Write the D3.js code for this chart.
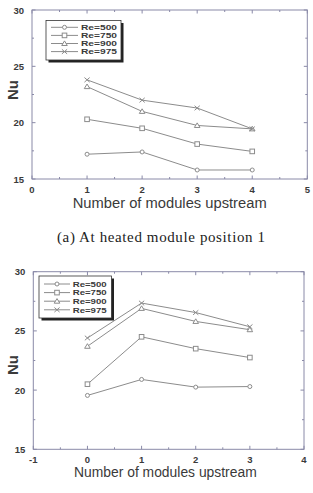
<!DOCTYPE html>
<html><head><meta charset="utf-8">
<script src="https://cdn.jsdelivr.net/npm/d3@7"></script>
<style>html,body{margin:0;padding:0;background:#fff;}svg{display:block;}</style>
</head><body>
<svg id="c" width="313" height="493"></svg>
<script>
const seriesNames = ["Re=500","Re=750","Re=900","Re=975"];
const markers = ["circle","square","triangle","cross"];
// Chart (a)
const xA = [1,2,3,4];
const a500 = [17.2,17.4,15.8,15.8];
const a750 = [20.3,19.5,18.1,17.45];
const a900 = [23.2,21.0,19.75,19.45];
const a975 = [23.8,22.0,21.3,19.45];
const xTicksA = [0,1,2,3,4,5];
// Chart (b)
const xB = [0,1,2,3];
const b500 = [19.55,20.9,20.25,20.3];
const b750 = [20.5,24.5,23.5,22.75];
const b900 = [23.7,26.9,25.8,25.1];
const b975 = [24.4,27.35,26.55,25.35];
const xTicksB = [-1,0,1,2,3,4];
const yTicks = [15,20,25,30];
const xLabel = "Number of modules upstream";
const yLabel = "Nu";
const caption = "(a) At heated module position 1";

const svg = d3.select("#c");
const frameCol = "#8a8aa8", lineCol = "#8c8c8c", textCol = "#3a3a3a";

function drawMarker(g, type, x, y) {
  if (type === "circle") g.append("circle").attr("cx",x).attr("cy",y).attr("r",2).attr("fill","#fff").attr("stroke",lineCol);
  else if (type === "square") g.append("rect").attr("x",x-2.3).attr("y",y-2.3).attr("width",4.6).attr("height",4.6).attr("fill","#fff").attr("stroke",lineCol);
  else if (type === "triangle") g.append("path").attr("d",`M${x},${y-2.6}L${x+2.8},${y+2}L${x-2.8},${y+2}Z`).attr("fill","#fff").attr("stroke",lineCol);
  else g.append("path").attr("d",`M${x-2.6},${y-2.3}L${x+2.6},${y+2.3}M${x-2.6},${y+2.3}L${x+2.6},${y-2.3}`).attr("stroke",lineCol).attr("fill","none");
}

function chart(o) {
  const g = svg.append("g");
  const x = d3.scaleLinear().domain(o.xDom).range([o.l,o.r]);
  const y = d3.scaleLinear().domain([15,30]).range([o.b,o.t]);
  g.append("rect").attr("x",o.l).attr("y",o.t).attr("width",o.r-o.l).attr("height",o.b-o.t)
    .attr("fill","none").attr("stroke",frameCol).attr("stroke-width",1);
  const xMaj = o.xTicks, xMin = d3.range(o.xDom[0]+0.5,o.xDom[1],1);
  const yMaj = yTicks, yMin = [17.5,22.5,27.5];
  const tk = (x1,y1,x2,y2)=>g.append("line").attr("x1",x1).attr("y1",y1).attr("x2",x2).attr("y2",y2).attr("stroke",frameCol);
  xMaj.forEach(v=>{tk(x(v),o.b,x(v),o.b-3.5);tk(x(v),o.t,x(v),o.t+3.5);});
  xMin.forEach(v=>{tk(x(v),o.b,x(v),o.b-2);tk(x(v),o.t,x(v),o.t+2);});
  yMaj.forEach(v=>{tk(o.l,y(v),o.l+3.5,y(v));tk(o.r,y(v),o.r-3.5,y(v));});
  yMin.forEach(v=>{tk(o.l,y(v),o.l+2,y(v));tk(o.r,y(v),o.r-2,y(v));});
  g.selectAll(".xl").data(xMaj).enter().append("text").attr("x",d=>x(d)).attr("y",o.b+13.5)
    .attr("text-anchor","middle").attr("font-family","Liberation Sans, Arial").attr("font-weight","bold")
    .attr("font-size",9.5).attr("fill",textCol).text(d=>d);
  g.selectAll(".yl").data(yMaj).enter().append("text").attr("x",o.l-8).attr("y",d=>y(d)+3.5)
    .attr("text-anchor","end").attr("font-family","Liberation Sans, Arial").attr("font-weight","bold")
    .attr("font-size",9.5).attr("fill",textCol).text(d=>d);
  g.append("text").attr("x",(o.xlab[0]+o.xlab[1])/2).attr("y",o.xlabY).attr("text-anchor","middle")
    .attr("font-family","Liberation Sans, Arial").attr("font-size",14).attr("fill",textCol)
    .attr("textLength",o.xlab[1]-o.xlab[0]).attr("lengthAdjust","spacingAndGlyphs").text(xLabel);
  g.append("text").attr("transform",`translate(${o.nuX},${o.nuY}) rotate(-90)`).attr("text-anchor","middle")
    .attr("font-family","Liberation Sans, Arial").attr("font-size",15.5).attr("font-weight","bold").attr("fill",textCol)
    .attr("textLength",20).attr("lengthAdjust","spacingAndGlyphs").text(yLabel);
  const line = d3.line().x(d=>x(d[0])).y(d=>y(d[1]));
  o.series.forEach((s,i)=>{
    const pts = o.xs.map((xv,j)=>[xv,s[j]]);
    g.append("path").attr("d",line(pts)).attr("fill","none").attr("stroke",lineCol).attr("stroke-width",1);
    pts.forEach(p=>drawMarker(g,markers[i],x(p[0]),y(p[1])));
  });
  const L = o.leg;
  g.append("rect").attr("x",L.x+2.5).attr("y",L.y+2.5).attr("width",L.w).attr("height",L.h).attr("fill","#222");
  g.append("rect").attr("x",L.x).attr("y",L.y).attr("width",L.w).attr("height",L.h).attr("fill","#fff").attr("stroke","#333").attr("stroke-width",0.8);
  seriesNames.forEach((n,i)=>{
    const yy = L.y0 + i*L.dy;
    g.append("line").attr("x1",L.l1).attr("x2",L.l2).attr("y1",yy).attr("y2",yy).attr("stroke",lineCol);
    drawMarker(g,markers[i],(L.l1+L.l2)/2,yy);
    g.append("text").attr("x",L.tx).attr("y",yy+2.8).attr("font-family","Liberation Sans, Arial").attr("font-weight","bold")
      .attr("font-size",7.6).attr("fill",textCol).attr("textLength",L.tw).attr("lengthAdjust","spacingAndGlyphs").text(n);
  });
}

chart({xDom:[0,5], xTicks:xTicksA, l:32, r:307.3, t:10, b:179, xs:xA, series:[a500,a750,a900,a975],
  xlab:[72.7,266.7], xlabY:207.5, nuX:17.5, nuY:90,
  leg:{x:46,y:20.5,w:75,h:39.5,y0:27.3,dy:8.1,l1:51,l2:78,tx:81,tw:36}});
chart({xDom:[-1,4], xTicks:xTicksB, l:33.3, r:304, t:271.7, b:449.3, xs:xB, series:[b500,b750,b900,b975],
  xlab:[74,256.7], xlabY:476.5, nuX:17.5, nuY:365,
  leg:{x:39,y:276,w:72.5,h:42,y0:284,dy:8.6,l1:44,l2:70,tx:72.7,tw:34}});

svg.append("text").attr("x",(57+265)/2).attr("y",242).attr("text-anchor","middle")
  .attr("font-family","Liberation Serif, Times New Roman, serif").attr("font-size",15).attr("fill","#222")
  .attr("textLength",208).attr("lengthAdjust","spacing").text(caption);
</script>
</body></html>
